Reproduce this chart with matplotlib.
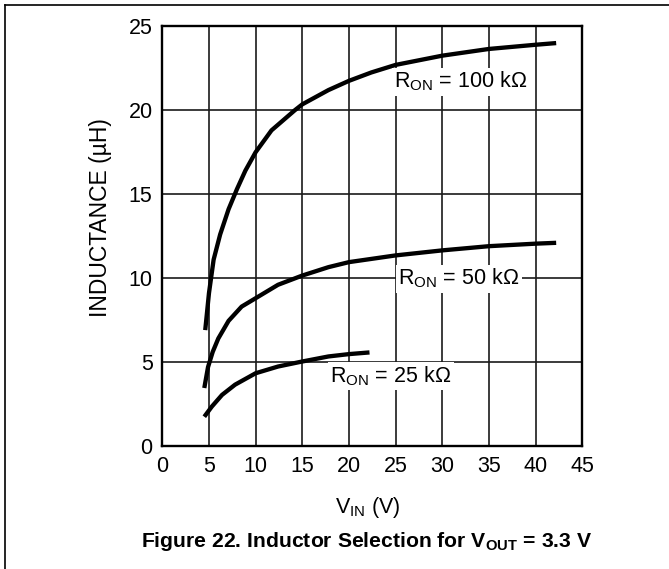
import matplotlib
matplotlib.use('Agg')
import matplotlib.pyplot as plt
from matplotlib.lines import Line2D

plt.rcParams['font.family'] = ['Liberation Sans', 'DejaVu Sans']
plt.rcParams['mathtext.fontset'] = 'custom'
plt.rcParams['mathtext.rm'] = 'Liberation Sans'
plt.rcParams['mathtext.bf'] = 'Liberation Sans:bold'

# curves (VIN in V, inductance in uH)
vin_100k = [4.6, 5.0, 5.5, 6.2, 7.1, 8.0, 8.9, 10.0, 11.7, 14.2, 15.0, 17.8, 20.0, 22.4, 25.0, 30.0, 35.0, 40.0, 42.2]
ind_100k = [6.9, 9.1, 11.1, 12.6, 14.1, 15.3, 16.4, 17.5, 18.8, 20.0, 20.35, 21.2, 21.75, 22.25, 22.7, 23.25, 23.65, 23.9, 24.0]

vin_50k = [4.5, 4.9, 5.4, 6.0, 7.1, 8.5, 10.0, 12.4, 15.0, 17.8, 20.0, 25.0, 30.0, 35.0, 40.0, 42.2]
ind_50k = [3.45, 4.7, 5.6, 6.4, 7.45, 8.3, 8.8, 9.6, 10.15, 10.65, 10.95, 11.35, 11.65, 11.9, 12.05, 12.1]

vin_25k = [4.5, 5.3, 6.4, 7.8, 10.0, 12.4, 15.0, 17.8, 20.0, 22.2]
ind_25k = [1.74, 2.34, 3.04, 3.65, 4.33, 4.73, 5.03, 5.33, 5.47, 5.57]

labels = [r'R$_{\mathrm{ON}}$ = 100 k$\Omega$', r'R$_{\mathrm{ON}}$ = 50 k$\Omega$', r'R$_{\mathrm{ON}}$ = 25 k$\Omega$']
label_pos = [(24.8, 21.33), (25.3, 9.6), (18.0, 3.8)]

xticks = [0, 5, 10, 15, 20, 25, 30, 35, 40, 45]
yticks = [0, 5, 10, 15, 20, 25]

fig = plt.figure(figsize=(6.69, 5.69), dpi=100)
ax = fig.add_axes([0.2426, 0.2163, 0.6278, 0.7375])

ax.set_xlim(0, 45)
ax.set_ylim(0, 25)
ax.set_xticks(xticks)
ax.set_yticks(yticks)
ax.grid(True, color='#1a1a1a', linewidth=1.2)
ax.tick_params(length=0, labelsize=15.5, pad=7)
for s in ax.spines.values():
    s.set_linewidth(1.7)

for x, y in [(vin_100k, ind_100k), (vin_50k, ind_50k), (vin_25k, ind_25k)]:
    ax.plot(x, y, color='black', linewidth=3.1, solid_capstyle='butt', solid_joinstyle='round')

for txt, (x, y) in zip(labels, label_pos):
    ax.text(x, y, txt, fontsize=15.5, ha='left', va='baseline',
            bbox=dict(facecolor='white', edgecolor='none', pad=1.5))

ax.set_xlabel(r'V$_{\mathrm{IN}}$ (V)', fontsize=15.5)
ax.xaxis.set_label_coords(0.49, -0.118)
ax.set_ylabel('INDUCTANCE (µH)', fontsize=16.5)
ax.yaxis.set_label_coords(-0.12, 0.543)

fig.text(367 / 669, 1 - 547 / 569, r'Figure 22. Inductor Selection for V$_{\mathbf{OUT}}$ = 3.3 V',
         fontsize=15.2, fontweight='bold', ha='center', va='baseline')

# frame lines on left and top
fig.add_artist(Line2D([5 / 669, 5 / 669], [0, 1 - 5 / 569], color='black', linewidth=1.2))
fig.add_artist(Line2D([5 / 669, 1], [1 - 5 / 569, 1 - 5 / 569], color='black', linewidth=1.2))

fig.savefig('out.png', dpi=100)
